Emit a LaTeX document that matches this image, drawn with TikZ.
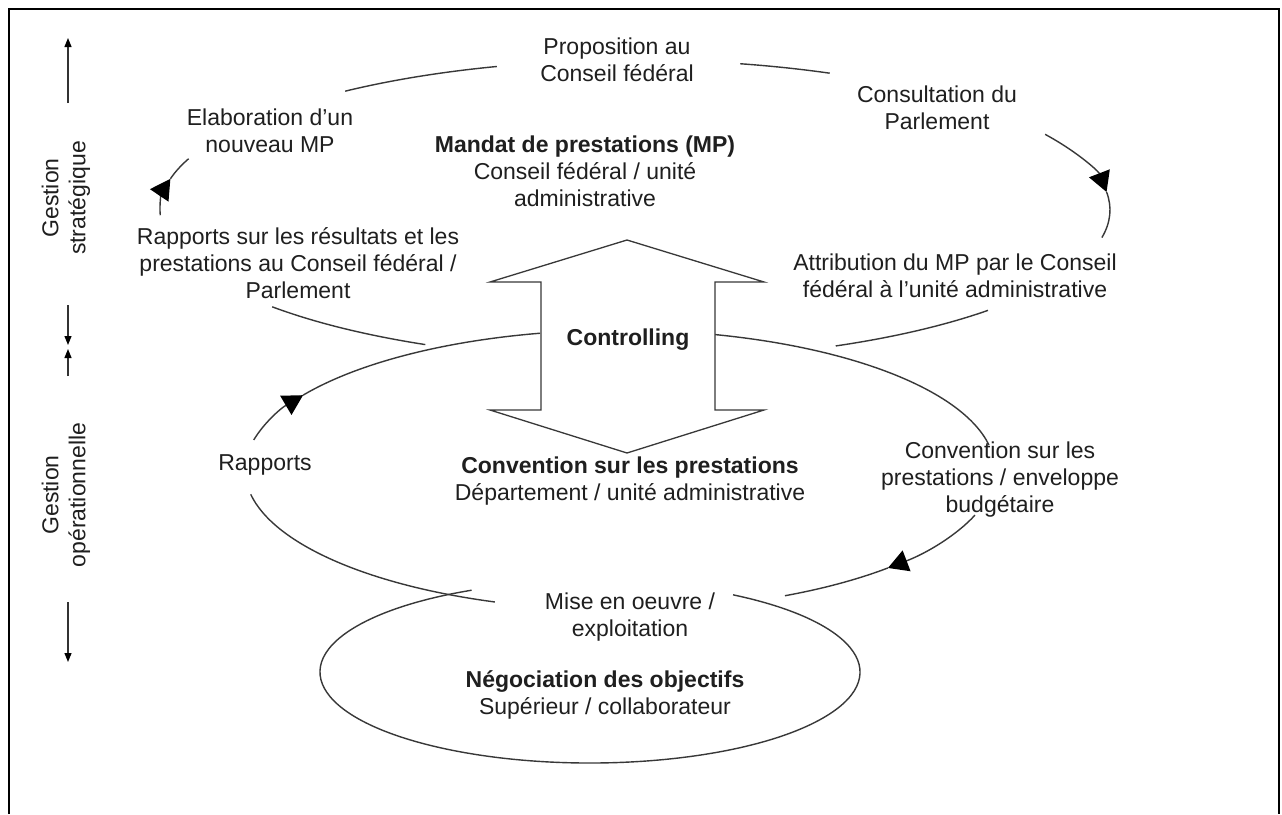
\documentclass[tikz,border=0pt]{standalone}
\usepackage{fontspec}
\setmainfont{Liberation Sans}
\usetikzlibrary{arrows.meta}

\begin{document}
\begin{tikzpicture}[x=1pt,y=-1pt,
  txt/.style={font=\fontsize{23}{27}\selectfont, align=center, inner sep=0pt, text=black!88},
  bold/.style={txt, font=\fontsize{23}{27}\selectfont\bfseries},
  loopline/.style={line width=1.4pt, draw=black!78},
  flowtip/.style={loopline, -{Triangle[length=20pt,width=22pt,color=black]}},
  axis/.style={line width=1.2pt, draw=black!80, -{Triangle[length=9pt,width=7pt,color=black]}},
  frame/.style={line width=2.5pt, draw=black}]

\useasboundingbox (0,0) rectangle (1282,814);
\fill[white] (0,0) rectangle (1282,814);

% outer frame (open at the bottom)
\draw[frame] (9,814) -- (9,9) -- (1279,9) -- (1279,814);

% ---- side scale: strategic / operational management
\coordinate (a1s) at (68,103); \coordinate (a1e) at (68,38);
\coordinate (a2s) at (68,305); \coordinate (a2e) at (68,345);
\coordinate (a3s) at (68,376); \coordinate (a3e) at (68,349);
\coordinate (a4s) at (68,602); \coordinate (a4e) at (68,662);
\draw[axis] (a1s) -- (a1e);
\draw[axis] (a2s) -- (a2e);
\draw[axis] (a3s) -- (a3e);
\draw[axis] (a4s) -- (a4e);
\node[txt, rotate=90] (gstrat) at (66,198) {Gestion\\stratégique};
\node[txt, rotate=90] (gop) at (66,495) {Gestion\\opérationnelle};

% ---- upper cycle: centre (635,210), radii 475 x 150
\coordinate (uc) at (635,210);
\draw[loopline] (uc) ++(-106.9:475 and 150) coordinate (u1a)
  arc[start angle=-106.9, end angle=-127.6, x radius=475, y radius=150] coordinate (u1b);
\draw[flowtip] (uc) ++(-182:475 and 150) coordinate (u2a)
  arc[start angle=-182, end angle=-168, x radius=475, y radius=150] coordinate (u2m);
\draw[loopline] (u2m)
  arc[start angle=-168, end angle=-160, x radius=475, y radius=150] coordinate (u2b);
\draw[loopline] (uc) ++(-77.2:475 and 150) coordinate (u3a)
  arc[start angle=-77.2, end angle=-65.8, x radius=475, y radius=150] coordinate (u3b);
\draw[flowtip] (uc) ++(-30.3:475 and 150) coordinate (u4a)
  arc[start angle=-30.3, end angle=-6.9, x radius=475, y radius=150] coordinate (u4m);
\draw[loopline] (u4m)
  arc[start angle=-6.9, end angle=10.6, x radius=475, y radius=150] coordinate (u4b);
\draw[loopline] (uc) ++(42:475 and 150) coordinate (u5a)
  arc[start angle=42, end angle=65, x radius=475, y radius=150] coordinate (u5b);
\draw[loopline] (uc) ++(116.2:475 and 150) coordinate (u6a)
  arc[start angle=116.2, end angle=139.8, x radius=475, y radius=150] coordinate (u6b);

% ---- lower cycle: centre (620,470), radii 375 x 140
\coordinate (lc) at (620,470);
\draw[flowtip] (lc) ++(-167.6:375 and 140) coordinate (l1a)
  arc[start angle=-167.6, end angle=-147.7, x radius=375, y radius=140] coordinate (l1m);
\draw[loopline] (l1m)
  arc[start angle=-147.7, end angle=-102.3, x radius=375, y radius=140] coordinate (l1b);
\draw[loopline] (lc) ++(170:375 and 140) coordinate (l2a)
  arc[start angle=170, end angle=109.5, x radius=375, y radius=140] coordinate (l2b);
\draw[flowtip] (lc) ++(18.8:375 and 140) coordinate (l3a)
  arc[start angle=18.8, end angle=44.4, x radius=375, y radius=140] coordinate (l3m);
\draw[loopline] (l3m)
  arc[start angle=44.4, end angle=63.9, x radius=375, y radius=140] coordinate (l3b);
\draw[loopline] (lc) ++(-10.3:375 and 140) coordinate (l4a)
  arc[start angle=-10.3, end angle=-75.3, x radius=375, y radius=140] coordinate (l4b);

% ---- goal negotiation ellipse (open at the top)
\coordinate (bc) at (590,672);
\draw[loopline] (bc) ++(-58:270 and 91) coordinate (b1)
  arc[start angle=-58, end angle=244, x radius=270, y radius=91] coordinate (b2);

% ---- controlling double arrow
\draw[loopline, fill=white, line width=1.3pt]
  (627,240) -- (764,282) -- (715,282) -- (715,410) -- (764,410) -- (627,453)
  -- (490,410) -- (541,410) -- (541,282) -- (490,282) -- cycle;

% ---- labels
\node[txt] (prop) at (617,60) {Proposition au\\Conseil fédéral};
\node[txt] (cons) at (937,108) {Consultation du\\Parlement};
\node[txt] (elab) at (270,131) {Elaboration d'un\\nouveau MP};
\node[txt] (mandat) at (585,171) {\textbf{Mandat de prestations (MP)}\\Conseil fédéral / unité\\administrative};
\node[txt] (rapp1) at (298,263) {Rapports sur les résultats et les\\prestations au Conseil fédéral /\\Parlement};
\node[txt] (attr) at (955,276) {Attribution du MP par le Conseil\\fédéral à l'unité administrative};
\node[bold] (ctrl) at (628,340) {Controlling};
\node[txt] (convp) at (630,481) {\textbf{Convention sur les prestations}\\Département / unité administrative};
\node[txt] (rapp2) at (265,465) {Rapports};
\node[txt] (convb) at (1000,480) {Convention sur les\\prestations / enveloppe\\budgétaire};
\node[txt] (mise) at (630,617) {Mise en oeuvre /\\exploitation};
\node[txt] (nego) at (605,695) {\textbf{Négociation des objectifs}\\Supérieur / collaborateur};

\end{tikzpicture}
\end{document}
